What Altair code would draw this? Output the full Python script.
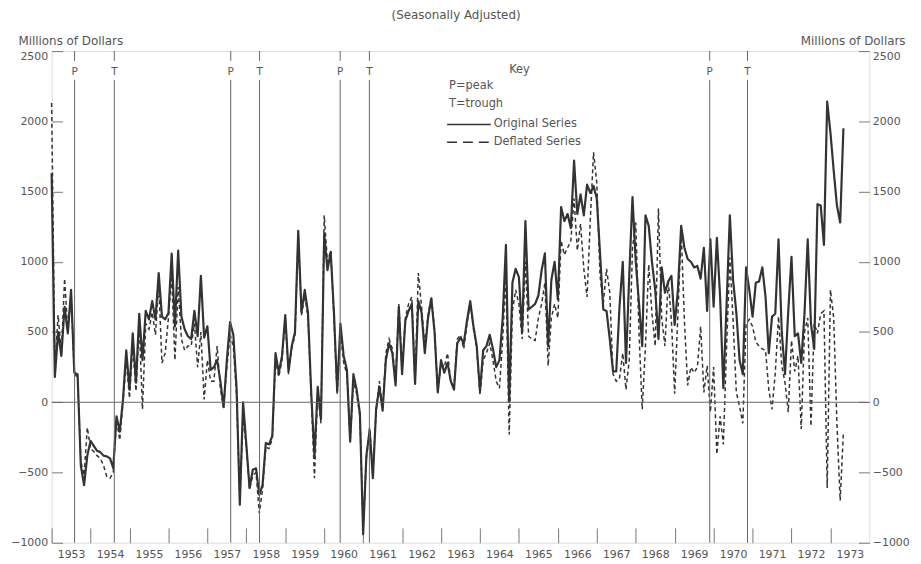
import altair as alt
import pandas as pd

# ---------------- data (millions of dollars, monthly, seasonally adjusted) ----------------
START_YEAR = 1953

orig_1953 = [1630, 180, 500, 330, 680, 490, 800, 210, 200, -450, -590, -380]
orig_1954 = [-275, -310, -346, -355, -380, -385, -400, -470, -100, -210, 20, 370]
orig_1955 = [90, 490, 140, 630, 300, 650, 590, 720, 590, 920, 610, 590]
orig_1956 = [635, 1058, 540, 1080, 610, 520, 470, 450, 650, 470, 900, 460]
orig_1957 = [540, 230, 250, 300, 150, -35, 300, 570, 480, 100, -730, 0]
orig_1958 = [-300, -610, -480, -470, -660, -590, -290, -300, -240, 350, 210, 330]
orig_1959 = [620, 220, 400, 500, 1220, 640, 800, 640, 70, -380, 110, -120]
orig_1960 = [1200, 940, 1070, 640, 80, 560, 330, 230, -280, 200, 90, -80]
orig_1961 = [-940, -380, -200, -540, -50, 110, -60, 300, 420, 350, 120, 680]
orig_1962 = [200, 580, 650, 700, 130, 720, 640, 350, 600, 740, 500, 70]
orig_1963 = [300, 210, 280, 150, 90, 420, 460, 420, 580, 720, 540, 400]
orig_1964 = [80, 370, 400, 480, 380, 250, 300, 600, 1120, 0, 850, 950]
orig_1965 = [890, 500, 1290, 660, 680, 700, 760, 940, 1060, 400, 870, 1000]
orig_1966 = [730, 1390, 1290, 1340, 1240, 1720, 1340, 1480, 1330, 1550, 1490, 1540]
orig_1967 = [1450, 1060, 660, 650, 450, 220, 220, 680, 1000, 280, 900, 1460]
orig_1968 = [1000, 706, 400, 1330, 1256, 1000, 800, 450, 960, 780, 860, 900]
orig_1969 = [550, 800, 1256, 1100, 1020, 1000, 960, 970, 880, 1100, 650, 1160]
orig_1970 = [680, 1170, 750, 100, 700, 1330, 870, 640, 300, 200, 960, 800]
orig_1971 = [610, 850, 860, 960, 750, 350, 610, 630, 1160, 500, 200, 650]
orig_1972 = [1035, 470, 490, 280, 630, 1160, 560, 380, 1410, 1400, 1120, 2140]
orig_1973 = [1920, 1650, 1400, 1280, 1950]

defl_1953 = [2130, 250, 620, 350, 880, 500, 780, 200, 180, -420, -520, -180]
defl_1954 = [-330, -350, -380, -400, -450, -530, -540, -500, -120, -270, 0, 300]
defl_1955 = [30, 400, 80, 560, -50, 560, 520, 640, 480, 850, 280, 350]
defl_1956 = [600, 900, 300, 820, 450, 370, 400, 400, 560, 250, 500, 20]
defl_1957 = [300, 150, 150, 400, 100, -40, 250, 480, 400, 50, -700, -100]
defl_1958 = [-320, -620, -520, -500, -790, -620, -320, -330, -260, 300, 180, 300]
defl_1959 = [600, 200, 380, 480, 1190, 620, 760, 600, 40, -540, 80, -150]
defl_1960 = [1330, 1000, 1080, 600, 50, 500, 280, 200, -280, 150, 60, -100]
defl_1961 = [-900, -400, -180, -500, -60, 150, -40, 350, 450, 380, 150, 700]
defl_1962 = [230, 600, 700, 750, 130, 920, 680, 400, 620, 750, 520, 70]
defl_1963 = [280, 250, 350, 150, 100, 450, 480, 380, 560, 700, 520, 380]
defl_1964 = [50, 300, 350, 420, 300, 150, 100, 450, 900, -230, 650, 800]
defl_1965 = [700, 450, 1000, 470, 450, 440, 600, 700, 850, 260, 600, 700]
defl_1966 = [600, 1150, 1050, 1100, 1150, 1450, 1080, 1270, 950, 750, 1300, 1780]
defl_1967 = [1560, 900, 700, 950, 780, 200, 150, 170, 350, 90, 300, 1100]
defl_1968 = [1280, 500, -50, 400, 980, 630, 400, 1380, 600, 400, 870, 580]
defl_1969 = [60, 630, 1220, 580, 120, 250, 210, 250, 540, 70, 260, -70]
defl_1970 = [250, -370, -100, -300, 400, 1030, 580, 70, -30, -150, 560, 590]
defl_1971 = [540, 430, 400, 380, 370, 90, -50, 210, 610, 260, 140, -70]
defl_1972 = [440, 220, 330, -190, 500, 600, -170, 560, 490, 630, 650, -610]
defl_1973 = [800, 600, -150, -700, -210]

original_years = [orig_1953, orig_1954, orig_1955, orig_1956, orig_1957, orig_1958, orig_1959,
                  orig_1960, orig_1961, orig_1962, orig_1963, orig_1964, orig_1965, orig_1966,
                  orig_1967, orig_1968, orig_1969, orig_1970, orig_1971, orig_1972, orig_1973]
deflated_years = [defl_1953, defl_1954, defl_1955, defl_1956, defl_1957, defl_1958, defl_1959,
                  defl_1960, defl_1961, defl_1962, defl_1963, defl_1964, defl_1965, defl_1966,
                  defl_1967, defl_1968, defl_1969, defl_1970, defl_1971, defl_1972, defl_1973]

# business-cycle turning points (decimal years)
cycle_dates = [1953.59, 1954.61, 1957.60, 1958.34, 1960.41, 1961.16, 1969.90, 1970.87]
cycle_labels = ["P", "T", "P", "T", "P", "T", "P", "T"]

year_ticks = list(range(1953, 1974))
y_ticks = [-1000, -500, 0, 500, 1000, 1500, 2000, 2500]


def to_frame(years, name):
    rows = []
    for i, vals in enumerate(years):
        for m, v in enumerate(vals):
            rows.append({"t": START_YEAR + i + m / 12.0, "value": v, "series": name})
    return pd.DataFrame(rows)


orig_df = to_frame(original_years, "Original Series")
defl_df = to_frame(deflated_years, "Deflated Series")
cycle_df = pd.DataFrame({"t": cycle_dates, "label": cycle_labels})
one = pd.DataFrame({"k": [0]})

# ---------------- styling ----------------
FONT = "DejaVu Sans"
TXT = "#555555"
AX = "#777777"
LINE = "#333333"
W, H = 825, 496

x_scale = alt.Scale(domain=[1953, 1974], nice=False, zero=False)
y_scale = alt.Scale(domain=[-1000, 2500], nice=False, zero=False)

top_flush = {"condition": {"test": "datum.value == 2500", "value": "top"}, "value": "middle"}

x_axis = alt.Axis(values=year_ticks, format="d", labelOffset=19.64, labelFlush=False,
                  offset=-15, tickSize=15, domain=False, labelPadding=6, grid=False,
                  tickColor=AX, labelColor=TXT, labelFont=FONT, labelFontSize=11, title=None)

left_axis = alt.Axis(orient="left", values=y_ticks, format="d", offset=-11, tickSize=11,
                     domain=False, labelPadding=4, labelFlush=False, labelBaseline=top_flush,
                     grid=False, tickColor=AX, labelColor=TXT, labelFont=FONT, labelFontSize=11,
                     title="Millions of Dollars", titleAngle=0, titleX=-45, titleY=-7,
                     titleAlign="left", titleBaseline="alphabetic", titleFont=FONT,
                     titleFontSize=12, titleFontWeight="normal", titleColor=TXT)

right_axis = alt.Axis(orient="right", values=y_ticks, format="d", offset=-11, tickSize=11,
                      domain=False, labelPadding=3, labelFlush=False, labelBaseline=top_flush,
                      grid=False, tickColor=AX, labelColor=TXT, labelFont=FONT, labelFontSize=11,
                      title="Millions of Dollars", titleAngle=0, titleX=47, titleY=-7,
                      titleAlign="right", titleBaseline="alphabetic", titleFont=FONT,
                      titleFontSize=12, titleFontWeight="normal", titleColor=TXT)

X = alt.X("t:Q", scale=x_scale, axis=x_axis)

solid = alt.Chart(orig_df).mark_line(color=LINE, strokeWidth=2.2, strokeJoin="round").encode(
    x=X, y=alt.Y("value:Q", scale=y_scale, axis=left_axis))

dashed = alt.Chart(defl_df).mark_line(color=LINE, strokeWidth=1.5, strokeDash=[4, 3]).encode(
    x=X, y=alt.Y("value:Q", scale=y_scale, axis=right_axis))

zero_line = alt.Chart(one).mark_rule(color="#666666", strokeWidth=1).encode(
    y=alt.YDatum(0, scale=y_scale, axis=None))

cycle_lines = alt.Chart(cycle_df).mark_rule(color="#666666", strokeWidth=1).encode(
    x=X, y=alt.YDatum(2295, scale=y_scale, axis=None), y2=alt.Y2Datum(-1000))

cycle_stubs = alt.Chart(cycle_df).mark_rule(color="#666666", strokeWidth=1).encode(
    x=X, y=alt.YDatum(2500, scale=y_scale, axis=None), y2=alt.Y2Datum(2430))

cycle_text = alt.Chart(cycle_df).mark_text(font=FONT, fontSize=10.5, color=TXT,
                                           baseline="middle", align="center").encode(
    x=X, y=alt.YDatum(2352, scale=y_scale, axis=None), text="label:N")

# ---------------- key and heading (annotation text) ----------------
def txt(s, x, y, align="left", size=11.5):
    return alt.Chart(one).mark_text(text=s, font=FONT, fontSize=size, color=TXT,
                                    align=align, baseline="middle").encode(
        x=alt.value(x), y=alt.value(y))

heading = txt("(Seasonally Adjusted)", 408, -36, align="center", size=12)
key_title = txt("Key", 472, 19, align="center")
key_p = txt("P=peak", 401, 35)
key_t = txt("T=trough", 401, 53)
key_orig = txt("Original Series", 446, 74)
key_defl = txt("Deflated Series", 446, 92)
key_solid = alt.Chart(one).mark_rule(color=LINE, strokeWidth=1.6).encode(
    x=alt.value(399), x2=alt.value(443), y=alt.value(74))
key_dash = alt.Chart(one).mark_rule(color=LINE, strokeWidth=1.6, strokeDash=[10, 6]).encode(
    x=alt.value(399), x2=alt.value(443), y=alt.value(92))

chart = alt.layer(
    solid, dashed, zero_line, cycle_lines, cycle_stubs, cycle_text,
    heading, key_title, key_p, key_t, key_orig, key_defl, key_solid, key_dash
).resolve_axis(y="independent").properties(
    width=W, height=H,
    autosize=alt.AutoSizeParams(type="none"),
    padding={"left": 44, "top": 41, "right": 44, "bottom": 18},
).configure_view(stroke=AX, strokeWidth=1).configure(background="white")

chart.save("out.html", embed_options={"renderer": "svg", "actions": False})
